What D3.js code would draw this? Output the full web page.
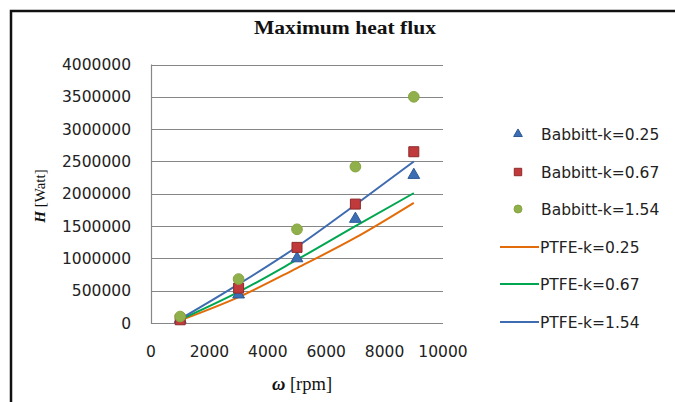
<!DOCTYPE html>
<html>
<head>
<meta charset="utf-8">
<script src="https://cdn.jsdelivr.net/npm/d3@7"></script>
<style>
  body { margin: 0; background: #fff; }
  svg { display: block; }
</style>
</head>
<body>
<svg class="chart"></svg>
<script>
let width = 675,
  height = 402;

// rotational speed (rpm)
const rpm = [1000, 3000, 5000, 7000, 9000];

// Babbitt results (markers)
const babbitt025 = [60000, 440000, 1000000, 1610000, 2290000];
const babbitt067 = [50000, 540000, 1170000, 1840000, 2650000];
const babbitt154 = [100000, 680000, 1450000, 2420000, 3500000];

// PTFE results (lines)
const ptfe025 = [40000, 400000, 850000, 1320000, 1860000];
const ptfe067 = [50000, 480000, 980000, 1500000, 2010000];
const ptfe154 = [60000, 600000, 1180000, 1830000, 2500000];

const yTicks = [0, 500000, 1000000, 1500000, 2000000, 2500000, 3000000, 3500000, 4000000];
const xTicks = [0, 2000, 4000, 6000, 8000, 10000];

let svg = d3.select(".chart").attr("width", width).attr("height", height);

// frame around the figure
svg.append("path")
  .attr("d", "M11,402 L11,11 L675,11")
  .attr("fill", "none")
  .attr("stroke", "#111")
  .attr("stroke-width", 2.5);

let x = d3.scaleLinear().domain([0, 10000]).range([151, 443]);
let y = d3.scaleLinear().domain([0, 4000000]).range([323, 64.5]);

// gridlines
svg.append("g")
  .selectAll("line")
  .data(yTicks)
  .enter()
  .append("line")
  .attr("x1", x(0))
  .attr("x2", x(10000))
  .attr("y1", (d) => Math.round(y(d)) + 0.5)
  .attr("y2", (d) => Math.round(y(d)) + 0.5)
  .attr("stroke", "#868686")
  .attr("stroke-width", 1.2);

// y axis line
svg.append("line")
  .attr("x1", x(0) + 0.5).attr("x2", x(0) + 0.5)
  .attr("y1", y(4000000)).attr("y2", y(0) + 1)
  .attr("stroke", "#868686")
  .attr("stroke-width", 1.2);

// tick labels
svg.append("g")
  .selectAll("text")
  .data(yTicks)
  .enter()
  .append("text")
  .attr("x", 131)
  .attr("y", (d) => y(d) + 5.5)
  .attr("text-anchor", "end")
  .attr("font-family", "DejaVu Sans")
  .attr("font-size", 15.5)
  .attr("fill", "#222")
  .text((d) => d);

svg.append("g")
  .selectAll("text")
  .data(xTicks)
  .enter()
  .append("text")
  .attr("x", (d) => x(d))
  .attr("y", 357)
  .attr("text-anchor", "middle")
  .attr("font-family", "DejaVu Sans")
  .attr("font-size", 15.5)
  .attr("fill", "#222")
  .text((d) => d);

// title
svg.append("text")
  .attr("x", 345)
  .attr("y", 34)
  .attr("text-anchor", "middle")
  .attr("font-family", "Liberation Serif")
  .attr("font-weight", "bold")
  .attr("font-size", 18.5)
  .attr("textLength", 182)
  .attr("lengthAdjust", "spacingAndGlyphs")
  .attr("fill", "#111")
  .text("Maximum heat flux");

// axis titles
let xt = svg.append("text")
  .attr("x", 302)
  .attr("y", 390)
  .attr("text-anchor", "middle")
  .attr("font-family", "Liberation Serif")
  .attr("font-size", 18.5)
  .attr("fill", "#111");
xt.append("tspan").attr("font-weight", "bold").attr("font-style", "italic").text("ω");
xt.append("tspan").text(" [rpm]");

let yt = svg.append("text")
  .attr("transform", "translate(45,196) rotate(-90)")
  .attr("text-anchor", "middle")
  .attr("font-family", "Liberation Serif")
  .attr("font-size", 15)
  .attr("fill", "#111");
yt.append("tspan").attr("font-weight", "bold").attr("font-style", "italic").text("H");
yt.append("tspan").text(" [Watt]");

// PTFE curves
const lines = [
  { name: "PTFE-k=0.25", values: ptfe025, color: "#e36c0a" },
  { name: "PTFE-k=0.67", values: ptfe067, color: "#00a650" },
  { name: "PTFE-k=1.54", values: ptfe154, color: "#3f6bb0" },
];

let line = d3.line()
  .x((d, i) => x(rpm[i]))
  .y((d) => y(d))
  .curve(d3.curveMonotoneX);

svg.append("g")
  .selectAll("path")
  .data(lines)
  .enter()
  .append("path")
  .attr("d", (d) => line(d.values))
  .attr("fill", "none")
  .attr("stroke", (d) => d.color)
  .attr("stroke-width", 2);

// Babbitt markers
const markers = [
  { name: "Babbitt-k=0.25", values: babbitt025, shape: d3.symbolTriangle, size: 60, fill: "#3c6eb4", stroke: "#2f5a96" },
  { name: "Babbitt-k=0.67", values: babbitt067, shape: d3.symbolSquare, size: 100, fill: "#c0393b", stroke: "#8e2a2c" },
  { name: "Babbitt-k=1.54", values: babbitt154, shape: d3.symbolCircle, size: 90, fill: "#8fb04a", stroke: "#86a53f" },
];

markers.forEach((m) => {
  svg.append("g")
    .selectAll("path")
    .data(m.values)
    .enter()
    .append("path")
    .attr("transform", (d, i) => `translate(${x(rpm[i])},${y(d)})`)
    .attr("d", d3.symbol().type(m.shape).size(m.size))
    .attr("fill", m.fill)
    .attr("stroke", m.stroke)
    .attr("stroke-width", 1);
});

// legend
const legendY = [134, 172, 209, 247, 284, 322];
let legend = svg.append("g");

markers.forEach((m, i) => {
  legend.append("path")
    .attr("transform", `translate(518,${legendY[i]})`)
    .attr("d", d3.symbol().type(m.shape).size(m.size * 0.55))
    .attr("fill", m.fill)
    .attr("stroke", m.stroke);
  legend.append("text")
    .attr("x", 541)
    .attr("y", legendY[i] + 5.5)
    .attr("font-family", "DejaVu Sans")
    .attr("font-size", 15.5)
    .attr("fill", "#222")
    .text(m.name);
});

lines.forEach((l, i) => {
  let ly = legendY[i + 3];
  legend.append("line")
    .attr("x1", 500).attr("x2", 539)
    .attr("y1", ly).attr("y2", ly)
    .attr("stroke", l.color)
    .attr("stroke-width", 2);
  legend.append("text")
    .attr("x", 540)
    .attr("y", ly + 5.5)
    .attr("font-family", "DejaVu Sans")
    .attr("font-size", 15.5)
    .attr("fill", "#222")
    .text(l.name);
});
</script>
</body>
</html>
